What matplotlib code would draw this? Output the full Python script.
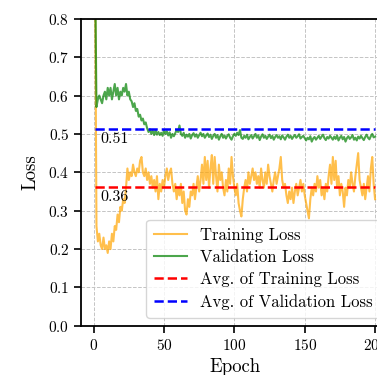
import matplotlib
matplotlib.use("Agg")
import matplotlib.pyplot as plt
import numpy as np

# ---------------------------------------------------------------------------
# Data (epochs 1..200)
# ---------------------------------------------------------------------------

epochs = np.arange(1, 201)

train_loss = [
    0.95, 0.26, 0.22, 0.24, 0.21, 0.20, 0.23, 0.20, 0.21, 0.19,
    0.22, 0.20, 0.24, 0.22, 0.26, 0.25, 0.29, 0.27, 0.31, 0.30,
    0.33, 0.32, 0.36, 0.41, 0.38, 0.40, 0.39, 0.42, 0.40, 0.39,
    0.41, 0.40, 0.43, 0.44, 0.40, 0.39, 0.41, 0.38, 0.40, 0.37,
    0.39, 0.36, 0.38, 0.35, 0.39, 0.33, 0.37, 0.35, 0.38, 0.36,
    0.39, 0.41, 0.38, 0.40, 0.41, 0.37, 0.35, 0.37, 0.33, 0.36,
    0.34, 0.37, 0.32, 0.35, 0.30, 0.29, 0.33, 0.31, 0.35, 0.34,
    0.37, 0.33, 0.36, 0.39, 0.35, 0.38, 0.42, 0.37, 0.44, 0.38,
    0.43, 0.36, 0.41, 0.445, 0.37, 0.44, 0.39, 0.35, 0.42, 0.38,
    0.40, 0.36, 0.34, 0.38, 0.35, 0.41, 0.37, 0.44, 0.39, 0.36,
    0.34, 0.37, 0.32, 0.30, 0.285, 0.33, 0.36, 0.38, 0.35, 0.40,
    0.37, 0.39, 0.41, 0.38, 0.40, 0.37, 0.39, 0.36, 0.41, 0.38,
    0.36, 0.40, 0.37, 0.42, 0.39, 0.37, 0.35, 0.38, 0.40, 0.37,
    0.39, 0.41, 0.44, 0.38, 0.36, 0.37, 0.34, 0.32, 0.35, 0.33,
    0.36, 0.32, 0.35, 0.37, 0.34, 0.36, 0.38, 0.35, 0.37, 0.34,
    0.32, 0.30, 0.28, 0.33, 0.36, 0.34, 0.37, 0.35, 0.39, 0.36,
    0.38, 0.34, 0.36, 0.33, 0.37, 0.35, 0.39, 0.42, 0.37, 0.44,
    0.38, 0.43, 0.36, 0.39, 0.34, 0.37, 0.35, 0.31, 0.36, 0.34,
    0.38, 0.36, 0.40, 0.37, 0.35, 0.39, 0.42, 0.45, 0.38, 0.36,
    0.34, 0.37, 0.33, 0.36, 0.39, 0.35, 0.41, 0.44, 0.37, 0.33,
]

val_loss = [
    0.95, 0.57, 0.59, 0.60, 0.59, 0.58, 0.60, 0.61, 0.59, 0.62,
    0.60, 0.62, 0.59, 0.61, 0.63, 0.60, 0.62, 0.59, 0.61, 0.60,
    0.62, 0.61, 0.63, 0.60, 0.61, 0.59, 0.585, 0.57, 0.58, 0.56,
    0.565, 0.545, 0.55, 0.535, 0.54, 0.525, 0.53, 0.515, 0.505, 0.512,
    0.50, 0.508, 0.497, 0.51, 0.498, 0.505, 0.497, 0.503, 0.495, 0.51,
    0.50, 0.507, 0.496, 0.504, 0.49, 0.50, 0.494, 0.502, 0.51, 0.505,
    0.522, 0.50, 0.495, 0.503, 0.49, 0.498, 0.493, 0.50, 0.488, 0.497,
    0.502, 0.493, 0.499, 0.49, 0.497, 0.503, 0.494, 0.50, 0.49, 0.496,
    0.501, 0.492, 0.498, 0.487, 0.495, 0.50, 0.49, 0.497, 0.485, 0.494,
    0.50, 0.49, 0.496, 0.488, 0.495, 0.499, 0.49, 0.485, 0.494, 0.50,
    0.495, 0.503, 0.497, 0.51, 0.49, 0.487, 0.495, 0.49, 0.498, 0.486,
    0.492, 0.497, 0.488, 0.494, 0.50, 0.49, 0.496, 0.484, 0.493, 0.499,
    0.49, 0.495, 0.487, 0.493, 0.498, 0.489, 0.495, 0.485, 0.492, 0.497,
    0.49, 0.494, 0.486, 0.496, 0.491, 0.485, 0.493, 0.498, 0.49, 0.495,
    0.487, 0.493, 0.497, 0.49, 0.494, 0.499, 0.488, 0.492, 0.495, 0.489,
    0.483, 0.49, 0.486, 0.494, 0.48, 0.488, 0.492, 0.485, 0.49, 0.495,
    0.487, 0.493, 0.498, 0.489, 0.484, 0.492, 0.488, 0.495, 0.49, 0.485,
    0.493, 0.487, 0.496, 0.483, 0.49, 0.495, 0.486, 0.492, 0.48, 0.489,
    0.494, 0.487, 0.491, 0.497, 0.485, 0.49, 0.483, 0.493, 0.488, 0.495,
    0.489, 0.484, 0.492, 0.498, 0.49, 0.486, 0.494, 0.50, 0.491, 0.493,
]

# ---------------------------------------------------------------------------
# Style
# ---------------------------------------------------------------------------

plt.rcParams["font.family"] = ["cmr10", "DejaVu Serif"]
plt.rcParams["mathtext.fontset"] = "cm"
plt.rcParams["axes.unicode_minus"] = False
plt.rcParams["axes.formatter.use_mathtext"] = True

# ---------------------------------------------------------------------------
# Plot
# ---------------------------------------------------------------------------

fig = plt.figure(figsize=(3.77, 3.75), dpi=100)
# axes runs past the right edge, as in the cropped reference
ax = fig.add_axes([0.215, 0.131, 0.817, 0.819])

train_avg = np.mean(train_loss)
val_avg = np.mean(val_loss)

ax.plot(epochs, train_loss, color="orange", alpha=0.7, linewidth=1.5,
        label="Training Loss")
ax.plot(epochs, val_loss, color="green", alpha=0.7, linewidth=1.5,
        label="Validation Loss")
ax.plot(epochs, np.full(len(epochs), train_avg), color="red",
        linestyle="--", linewidth=1.8, label="Avg. of Training Loss")
ax.plot(epochs, np.full(len(epochs), val_avg), color="blue",
        linestyle="--", linewidth=1.8, label="Avg. of Validation Loss")

ax.text(5, train_avg - 0.008, f"{train_avg:.2f}", fontsize=11.5,
        va="top", ha="left")
ax.text(5, val_avg - 0.008, f"{val_avg:.2f}", fontsize=11.5,
        va="top", ha="left")

ax.set_ylim(0, 0.8)
ax.set_yticks(np.arange(0, 0.81, 0.1))
ax.set_xticks([0, 50, 100, 150, 200])
ax.set_xlabel("Epoch", fontsize=13.5)
ax.set_ylabel("Loss", fontsize=13.5, labelpad=6)
ax.tick_params(labelsize=11, direction="out", length=5, width=1.2)
ax.grid(True, linestyle="--", color="#c4c4c4", linewidth=0.7)
for sp in ax.spines.values():
    sp.set_linewidth(1.3)

ax.legend(loc="lower right", fontsize=12, framealpha=0.8,
          handlelength=2.0, labelspacing=0.42, borderpad=0.45)

fig.savefig("out.png", dpi=100)
